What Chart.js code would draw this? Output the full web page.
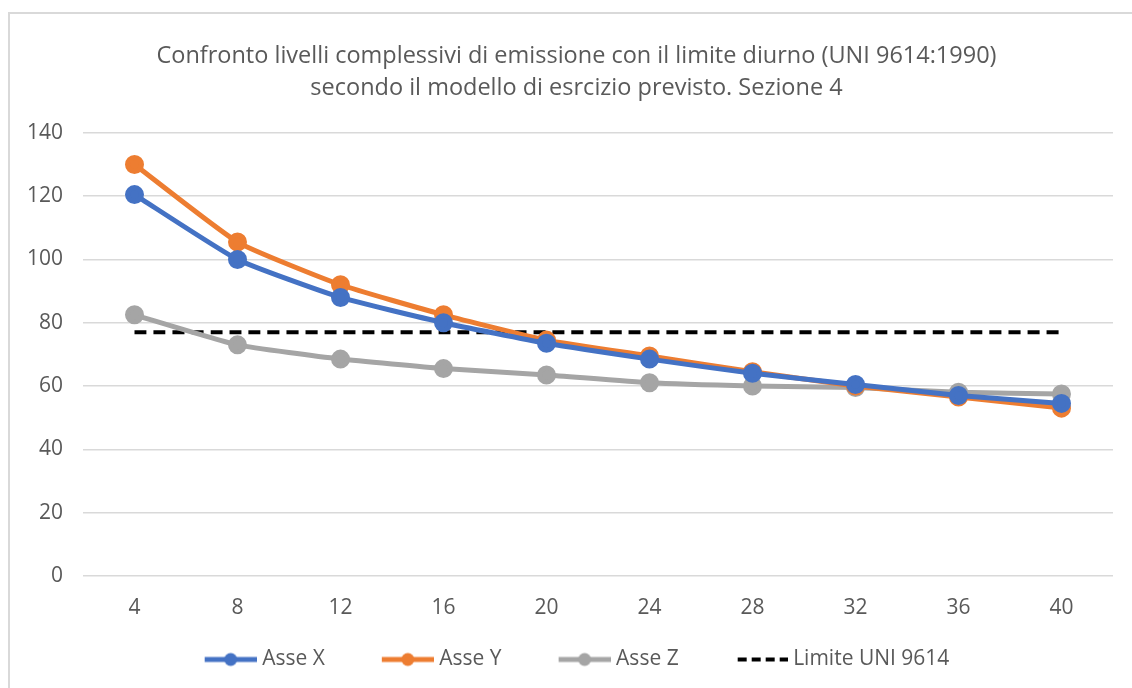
<!DOCTYPE html>
<html>
<head>
<meta charset="utf-8">
<script src="https://cdn.jsdelivr.net/npm/chart.js@4.4.1/dist/chart.umd.min.js"></script>
<style>
  html, body { margin: 0; padding: 0; background: #fff; }
  #wrap { position: relative; width: 1132px; height: 688px; }
  #frame { position: absolute; left: 8px; top: 12px; right: 0; bottom: 0;
           border-left: 2px solid #d9d9d9; border-top: 2px solid #d9d9d9; }
  canvas { position: absolute; left: 0; top: 0; }
</style>
</head>
<body>
<div id="wrap">
  <div id="frame"></div>
  <canvas id="myChart" width="1132" height="688"></canvas>
</div>
<script>
const labels = ['4', '8', '12', '16', '20', '24', '28', '32', '36', '40'];
const asseX = [120.5, 100, 88, 80, 73.5, 68.5, 64, 60.5, 57, 54.5];
const asseY = [130, 105.5, 92, 82.5, 74.5, 69.5, 64.5, 60, 56.5, 53];
const asseZ = [82.5, 73, 68.5, 65.5, 63.5, 61, 60, 59.5, 58, 57.5];
const limite = [77, 77, 77, 77, 77, 77, 77, 77, 77, 77];

const FONT = "'Open Sans', sans-serif";
const GREY_TEXT = '#595959';

// legend icons: blank space on the left (acts as gap between items),
// then a line with a marker, or a dashed line
const ICON_BOX = 100;
function legendIcon(color, dashed) {
   const c = document.createElement('canvas');
   c.width = ICON_BOX + 10;
   c.height = 16;
   const g = c.getContext('2d');
   const x0 = c.width - 52;
   g.strokeStyle = color;
   g.lineWidth = dashed ? 4 : 5;
   if (dashed) g.setLineDash([9, 5]);
   g.beginPath();
   g.moveTo(x0 + (dashed ? 2 : 0), 8);
   g.lineTo(c.width, 8);
   g.stroke();
   if (!dashed) {
      g.fillStyle = color;
      g.beginPath();
      g.arc(x0 + 26, 8, 6.5, 0, Math.PI * 2);
      g.fill();
   }
   return c;
}

const icons = [
   legendIcon('#4472C4', false),
   legendIcon('#ED7D31', false),
   legendIcon('#A5A5A5', false),
   legendIcon('#000000', true)
];

// nudge title and legend sideways to where they sit in the original
const boxShift = {
   id: 'boxShift',
   afterLayout(chart) {
      chart.titleBlock.left += 10;
      chart.titleBlock.right += 10;
      chart.legend.left -= 16;
      chart.legend.right -= 16;
   }
};

const ctx = document.getElementById('myChart').getContext('2d');
const myChart = new Chart(ctx, {
   type: 'line',
   data: {
      labels: labels,
      datasets: [{
         label: 'Asse X',
         data: asseX,
         borderColor: '#4472C4',
         backgroundColor: '#4472C4',
         borderWidth: 5,
         pointRadius: 7
      }, {
         label: 'Asse Y',
         data: asseY,
         borderColor: '#ED7D31',
         backgroundColor: '#ED7D31',
         borderWidth: 5,
         pointRadius: 7
      }, {
         label: 'Asse Z',
         data: asseZ,
         borderColor: '#A5A5A5',
         backgroundColor: '#A5A5A5',
         borderWidth: 5,
         pointRadius: 7
      }, {
         label: 'Limite UNI 9614',
         data: limite,
         borderColor: '#000000',
         backgroundColor: '#000000',
         borderWidth: 4,
         borderDash: [12, 7],
         pointRadius: 0
      }]
   },
   plugins: [boxShift],
   options: {
      responsive: false,
      animation: false,
      layout: { padding: { left: 20, right: 19, top: 40, bottom: 8 } },
      elements: {
         line: { tension: 0.15 }
      },
      plugins: {
         title: {
            display: true,
            text: ['Confronto livelli complessivi di emissione con il limite diurno (UNI 9614:1990)',
                   'secondo il modello di esrcizio previsto. Sezione 4'],
            color: GREY_TEXT,
            font: { family: FONT, size: 23.5, weight: 'normal', lineHeight: 1.36 },
            padding: { top: 0, bottom: 29 }
         },
         legend: {
            position: 'bottom',
            labels: {
               color: GREY_TEXT,
               font: { family: FONT, size: 21 },
               usePointStyle: true,
               pointStyleWidth: ICON_BOX,
               padding: 4,
               generateLabels: (chart) => chart.data.datasets.map((ds, i) => ({
                  text: ds.label,
                  fontColor: GREY_TEXT,
                  pointStyle: icons[i],
                  datasetIndex: i,
                  hidden: false,
                  lineWidth: 0
               }))
            }
         },
         tooltip: { enabled: false }
      },
      scales: {
         x: {
            offset: true,
            grid: { display: false },
            border: { display: false },
            ticks: { color: GREY_TEXT, font: { family: FONT, size: 21 }, padding: 12 },
            afterFit: (scale) => { scale.height += 12; }
         },
         y: {
            min: 0,
            max: 140,
            ticks: { stepSize: 20, color: GREY_TEXT, font: { family: FONT, size: 21 }, padding: 20 },
            grid: { color: '#d9d9d9', lineWidth: 1.5, drawTicks: false },
            border: { display: false },
            afterFit: (scale) => { scale.width = 63; }
         }
      }
   }
});
</script>
</body>
</html>
